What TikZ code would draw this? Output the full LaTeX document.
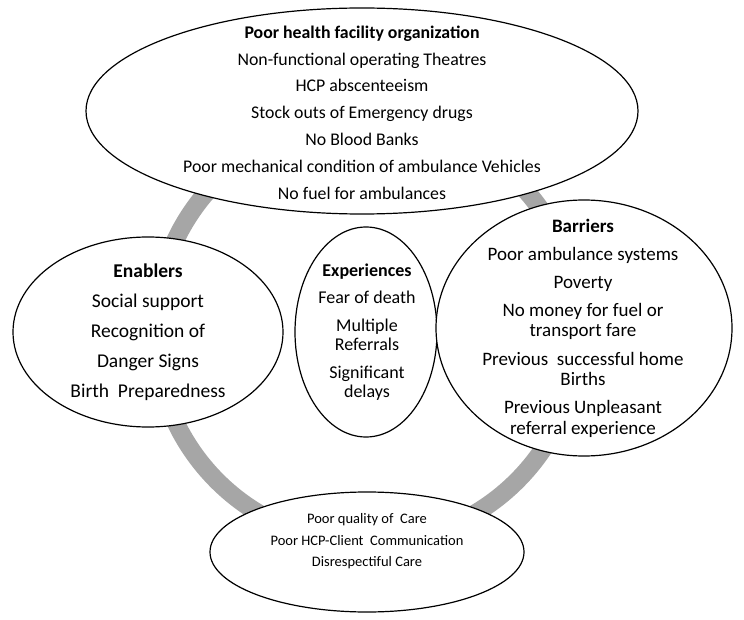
\documentclass[tikz,border=0pt]{standalone}
\usepackage{fontspec}
\setmainfont{Carlito}
\usetikzlibrary{shapes.geometric,positioning}

\newcommand{\orgfont}{\fontsize{17.8}{26.8}\selectfont}
\newcommand{\enbfont}{\fontsize{19.5}{30}\selectfont}
\newcommand{\expfont}{\fontsize{18}{19.5}\selectfont}
\newcommand{\barfont}{\fontsize{19}{20.5}\selectfont}
\newcommand{\carefont}{\fontsize{14.5}{21.5}\selectfont}

\begin{document}
\begin{tikzpicture}[x=1pt, y=-1pt,
  ring/.style={line width=18pt, draw=gray!70},
  oval/.style={ellipse, draw, line width=1.2pt, fill=white, inner sep=0pt},
  txt/.style={align=center, inner sep=0pt},
]
  \useasboundingbox (0,0) rectangle (744,620);

  % Grey ring behind everything
  \coordinate (hub) at (367,331);
  \draw[ring] (hub) circle (212pt);

  % Ovals
  \node[oval, minimum width=552, minimum height=206] (org) at (362,111) {};
  \node[oval, minimum width=270, minimum height=190] (enab) at (148,332) {};
  \node[oval, minimum width=142, minimum height=210] (expe) at (366,332) {};
  \node[oval, minimum width=296, minimum height=256] (barr) at (584,328) {};
  \node[oval, minimum width=314, minimum height=120] (care) at (367,552) {};

  % Texts
  \node[txt, font=\orgfont] (orgtxt) at (362,112.5) {%
    \textbf{Poor health facility organization}\\
    Non-functional operating Theatres\\
    HCP abscenteeism\\
    Stock outs of Emergency drugs\\
    No Blood Banks\\
    Poor mechanical condition of ambulance Vehicles\\
    No fuel for ambulances};

  \node[txt, font=\enbfont] (enabtxt) at (148,332) {%
    \textbf{Enablers}\\
    Social support\\
    Recognition of\\
    Danger Signs\\
    Birth\ \ Preparedness};

  \node[txt, font=\expfont] (expetxt) at (367,332) {%
    \textbf{Experiences}\\[8pt]
    Fear of death\\[8pt]
    Multiple\\
    Referrals\\[8pt]
    Significant\\
    delays};

  \node[txt, font=\barfont] (barrtxt) at (583,328.5) {%
    \textbf{Barriers}\\[7pt]
    Poor ambulance systems\\[7.5pt]
    Poverty\\[7.5pt]
    No money for fuel or\\
    transport fare\\[8pt]
    Previous\ \ successful home\\
    Births\\[7.5pt]
    Previous Unpleasant\\
    referral experience};

  \node[txt, font=\carefont] (caretxt) at (367,541.5) {%
    Poor quality of\ \ Care\\
    Poor HCP-Client\ \ Communication\\
    Disrespectiful Care};

\end{tikzpicture}
\end{document}
